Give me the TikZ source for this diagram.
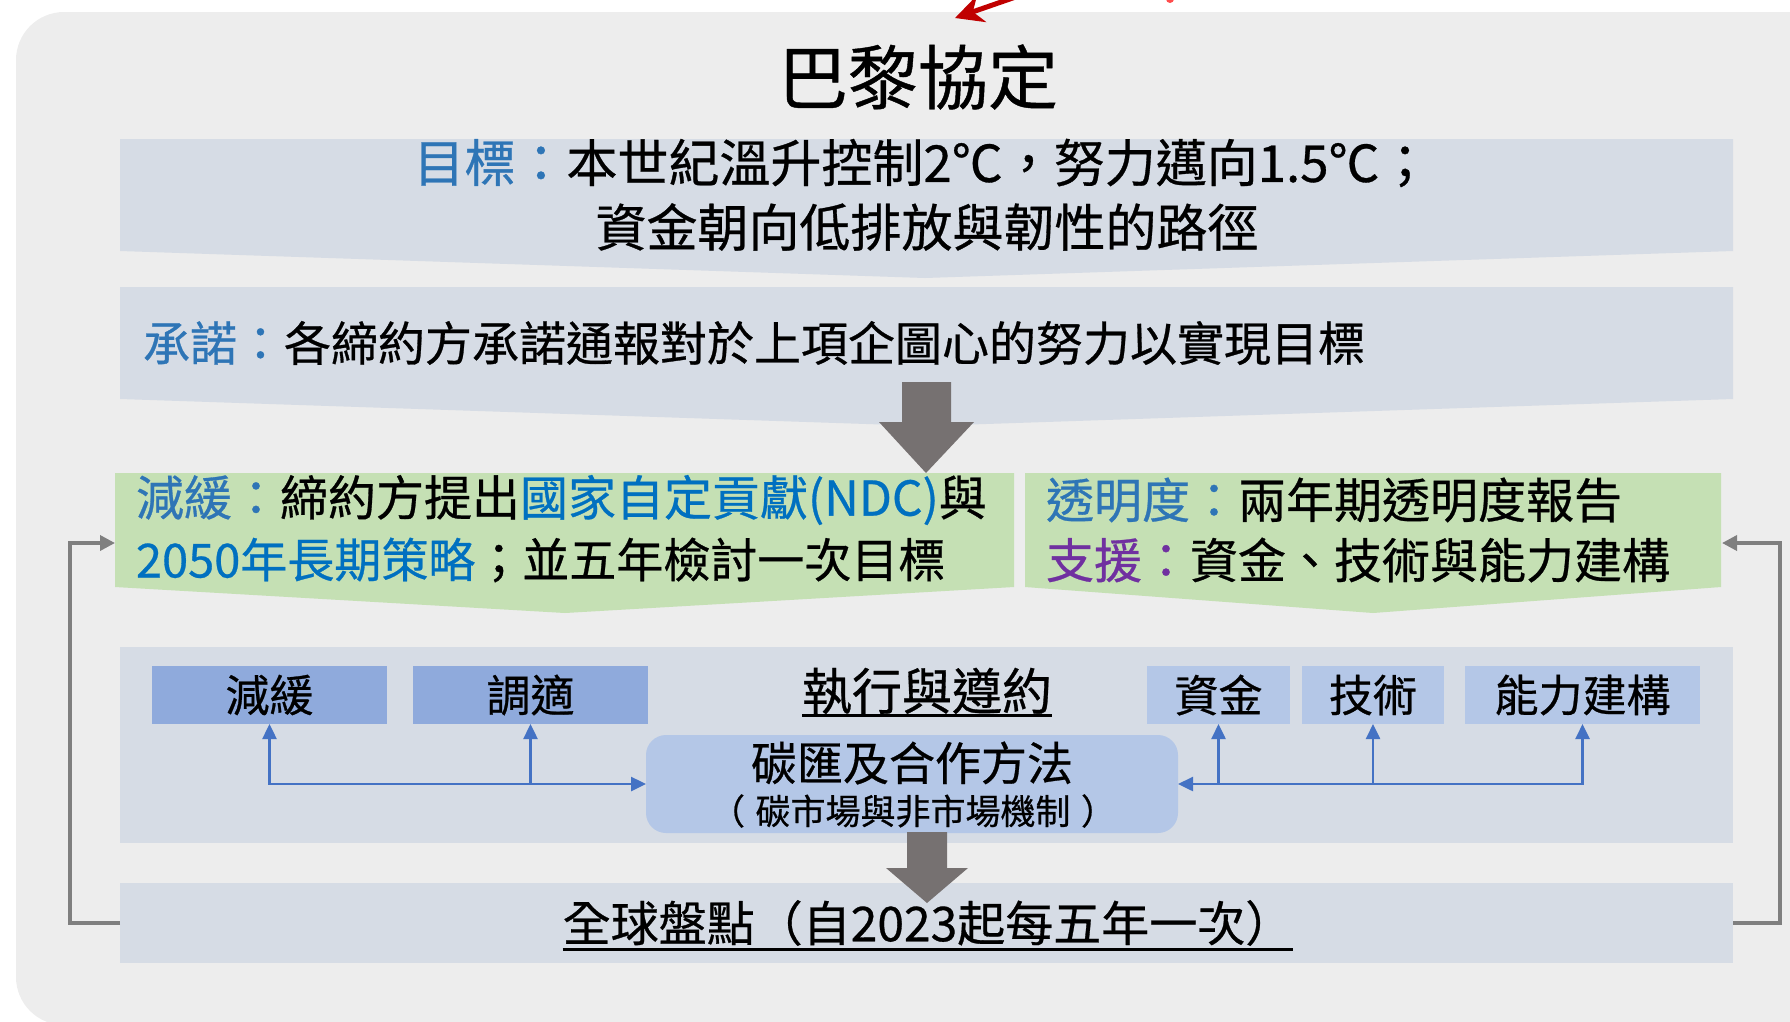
\documentclass[tikz,border=0pt]{standalone}
\usepackage{fontspec}
\setmainfont{Noto Sans CJK TC}[FakeBold=0.6]
\usetikzlibrary{arrows.meta,calc}
\definecolor{panel}{HTML}{EDEDED}
\definecolor{boxc}{HTML}{D6DCE5}
\definecolor{greenc}{HTML}{C5E0B4}
\definecolor{dkbox}{HTML}{8FAADC}
\definecolor{ltbox}{HTML}{B4C7E7}
\definecolor{garrow}{HTML}{767171}
\definecolor{fbline}{HTML}{7F7F7F}
\definecolor{conn}{HTML}{4472C4}
\definecolor{lab}{HTML}{2E75B6}
\definecolor{hbl}{HTML}{0070C0}
\definecolor{purp}{HTML}{7030A0}
\definecolor{redc}{HTML}{C00000}
\newcommand\myfs[1]{\fontsize{#1}{#1}\selectfont}
\begin{document}
\begin{tikzpicture}[x=1pt,y=-1pt,
  every node/.style={inner sep=0pt,outer sep=0pt},
  bigbox/.style={fill=boxc,minimum width=1613pt},
  sbd/.style={fill=dkbox,minimum height=58pt,font=\myfs{44}},
  sbl/.style={fill=ltbox,minimum height=58pt,font=\myfs{44}},
  cboxs/.style={fill=ltbox,rounded corners=20pt,minimum width=532pt,minimum height=98pt},
  bconn/.style={draw=conn,line width=2.5pt,{Triangle[length=15pt,width=14pt]}-{Triangle[length=15pt,width=14pt]}},
  bconn1/.style={draw=conn,line width=2.5pt,-{Triangle[length=15pt,width=14pt]}},
  fb/.style={draw=fbline,line width=3.5pt,-{Triangle[length=15pt,width=15pt]}},
  garr/.style={fill=garrow},
  maintxt/.style={font=\myfs{48}}]
\useasboundingbox (0,0) rectangle (1790,1021);
\clip (0,0) rectangle (1790,1021);
% outer panel
\fill[panel,rounded corners=48pt] (16,12) rectangle (1860,1025);
% red arrow fragment
\coordinate (rs) at (1030,-8);
\coordinate (rt) at (955,18);
\draw[redc,line width=5pt,-{Stealth[length=28pt,width=28pt]}] (rs) -- (rt);
\fill[red!70] (1170,-1) circle (4);
% goal box
\fill[boxc] (120,139) -- (1733,139) -- (1733,251) -- (925,278) -- (120,251) -- cycle;
% commitment box
\fill[boxc] (120,287) -- (1733,287) -- (1733,399) -- (926,426) -- (120,399) -- cycle;
% green boxes
\fill[greenc] (115,473) -- (1014,473) -- (1014,587) -- (565,613) -- (115,587) -- cycle;
\fill[greenc] (1025,473) -- (1721,473) -- (1721,587) -- (1373,613) -- (1025,587) -- cycle;
\coordinate (glw) at (115,543);
\coordinate (gre) at (1722,543);
% implementation box
\node[bigbox,minimum height=196pt] (impl) at (926.5,745) {};
% stocktake box
\node[bigbox,minimum height=80pt] (gst) at (926.5,923) {};
% small boxes
\node[sbd,minimum width=235pt] (m1) at (269.5,695) {減緩};
\node[sbd,minimum width=235pt] (m2) at (530.5,695) {調適};
\node[sbl,minimum width=143pt] (s1) at (1218.5,695) {資金};
\node[sbl,minimum width=142pt] (s2) at (1373,695) {技術};
\node[sbl,minimum width=235pt] (s3) at (1582.5,695) {能力建構};
% center box
\node[cboxs] (cb) at (912,784) {};
\node[font=\myfs{46}] (cb1) at (912,763) {碳匯及合作方法};
\node[font=\myfs{35}] (cb2) at (913,811) {（\hspace{0.3em}碳市場與非市場機制\hspace{0.3em}）};
% blue connectors
\draw[bconn] (m1.south) |- (cb.west);
\draw[bconn1] (m2.south |- cb.west) -- (m2.south);
\draw[bconn] (s3.south) |- (cb.east);
\draw[bconn1] (s1.south |- cb.east) -- (s1.south);
\draw[bconn1] (s2.south |- cb.east) -- (s2.south);
% gray block arrows
\fill[garr] (902,382) -- (951,382) -- (951,422) -- (974,422) -- (926,473) -- (879,422) -- (902,422) -- cycle;
\fill[garr] (907,832) -- (947,832) -- (947,868) -- (968,868) -- (927,903) -- (886,868) -- (907,868) -- cycle;
% feedback lines
\draw[fb] (gst.west) -| ([xshift=-45pt]glw) -- (glw);
\draw[fb] (gst.east) -| ([xshift=58pt]gre) -- (gre);
% texts
\node[font=\myfs{70}] (title) at (918,77) {巴黎協定};
\node[font=\myfs{51}] (g1) at (922,163) {\textcolor{lab}{目標：}本世紀溫升控制2℃，努力邁向1.5℃；};
\node[font=\myfs{51}] (g2) at (927,227) {資金朝向低排放與韌性的路徑};
\node[font=\myfs{47},anchor=west] (c1) at (143,343) {\textcolor{lab}{承諾：}各締約方承諾通報對於上項企圖心的努力以實現目標};
\node[maintxt,anchor=west] (l1) at (136,500) {\textcolor{lab}{減緩：}締約方提出\textcolor{hbl}{國家自定貢獻(NDC)}與};
\node[font=\myfs{47},anchor=west] (l2) at (136,560) {\textcolor{hbl}{2050年長期策略}；並五年檢討一次目標};
\node[maintxt,anchor=west] (r1) at (1046,500) {\textcolor{lab}{透明度：}兩年期透明度報告};
\node[maintxt,anchor=west] (r2) at (1046,560) {\textcolor{purp}{支援：}資金、技術與能力建構};
\node[font=\myfs{50}] (ex) at (927,691) {執行與遵約};
\draw[line width=3pt] ([yshift=-6pt]ex.base west) -- ([yshift=-6pt]ex.base east);
\node[maintxt] (gs) at (928,923) {全球盤點（自2023起每五年一次）};
\draw[line width=3pt] ([yshift=-8pt]gs.base west) -- ([yshift=-8pt]gs.base east);
\end{tikzpicture}
\end{document}
